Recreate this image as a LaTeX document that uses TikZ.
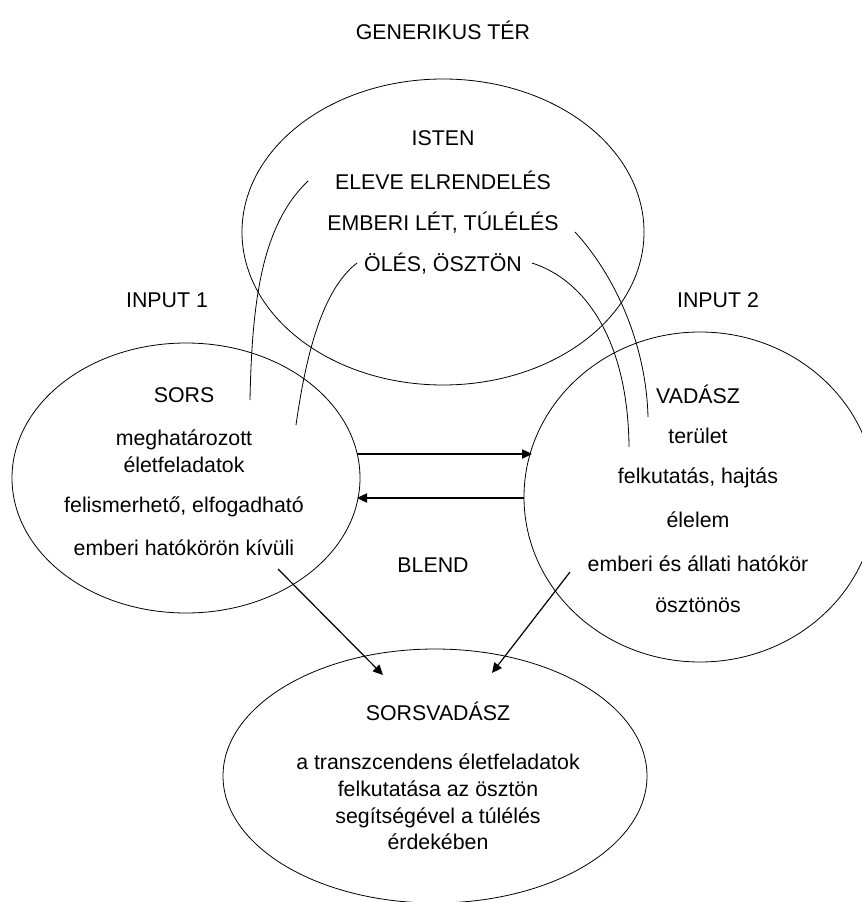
\documentclass[tikz,border=0pt]{standalone}
\usepackage{fontspec}
\setmainfont{Liberation Sans}
\usetikzlibrary{shapes.geometric,arrows.meta}
\begin{document}
\begin{tikzpicture}[x=0.75pt,y=-0.75pt,
  space/.style={ellipse,draw,line width=0.6pt,inner sep=0pt,outer sep=0pt},
  txt/.style={inner sep=0pt,font=\fontsize{16}{20}\selectfont,align=center},
  link/.style={line width=0.6pt},
  flow/.style={line width=0.9pt,-{Triangle[length=7.5pt,width=7pt]}}]
\useasboundingbox (0,0) rectangle (861,902);

% the four mental spaces
\node[space,minimum width=301.5pt,minimum height=229.5pt] (generic) at (443,232) {};
\node[space,minimum width=261pt,minimum height=202.5pt] (inputA) at (186,478) {};
\node[space,minimum width=264pt,minimum height=247.5pt] (inputB) at (700,497) {};
\node[space,minimum width=318pt,minimum height=190.5pt] (blend) at (435,776) {};

% titles
\node[txt] (tgeneric) at (443,30) {GENERIKUS TÉR};
\node[txt] (tinA) at (167,300) {INPUT 1};
\node[txt] (tinB) at (718,300) {INPUT 2};
\node[txt] (tblend) at (433,565) {BLEND};

% generic space contents
\node[txt] (isten) at (443,138) {ISTEN};
\node[txt] (eleve) at (443,180) {ELEVE ELRENDELÉS};
\node[txt] (emberi) at (443,223) {EMBERI LÉT, TÚLÉLÉS};
\node[txt] (oles) at (443,264) {ÖLÉS, ÖSZTÖN};

% input 1 contents
\node[txt] (sors) at (184,395) {SORS};
\node[txt] (megh) at (184,451) {meghatározott\\életfeladatok};
\node[txt] (felism) at (184,507) {felismerhető, elfogadható};
\node[txt] (hatokor) at (184,548) {emberi hatókörön kívüli};

% input 2 contents
\node[txt] (vadasz) at (698,394) {VADÁSZ};
\node[txt] (terulet) at (698,436) {terület};
\node[txt] (felkut) at (698,478) {felkutatás, hajtás};
\node[txt] (elelem) at (698,520) {élelem};
\node[txt] (allati) at (698,564) {emberi és állati hatókör};
\node[txt] (osztonos) at (698,605) {ösztönös};

% blend contents
\node[txt] (sorsvadasz) at (438,711) {SORSVADÁSZ};
\node[txt] (blendtext) at (438,802) {a transzcendens életfeladatok\\felkutatása az ösztön\\segítségével a túlélés\\érdekében};

% ends of the correspondence lines
\coordinate (s1) at (250,400);
\coordinate (e1) at (308,181);
\coordinate (s2) at (296,425);
\coordinate (e2) at (357,263);
\coordinate (s3) at (575,232);
\coordinate (e3) at (648,417);
\coordinate (s4) at (532,263);
\coordinate (e4) at (629,447);

\draw[link] (s1) .. controls (252,300) and (262,225) .. (e1);
\draw[link] (s2) .. controls (306,355) and (322,290) .. (e2);
\draw[link] (s3) .. controls (612,272) and (646,340) .. (e3);
\draw[link] (s4) .. controls (585,280) and (628,340) .. (e4);

% projections between the inputs and into the blend
\coordinate (a1) at (357,454);
\coordinate (b1) at (532,454);
\coordinate (a2) at (524,498);
\coordinate (b2) at (357,498);
\coordinate (a3) at (278,569);
\coordinate (b3) at (383,675);
\coordinate (a4) at (570,572);
\coordinate (b4) at (492,673);

\draw[flow] (a1) -- (b1);
\draw[flow] (a2) -- (b2);
\draw[flow] (a3) -- (b3);
\draw[flow] (a4) -- (b4);
\end{tikzpicture}
\end{document}
